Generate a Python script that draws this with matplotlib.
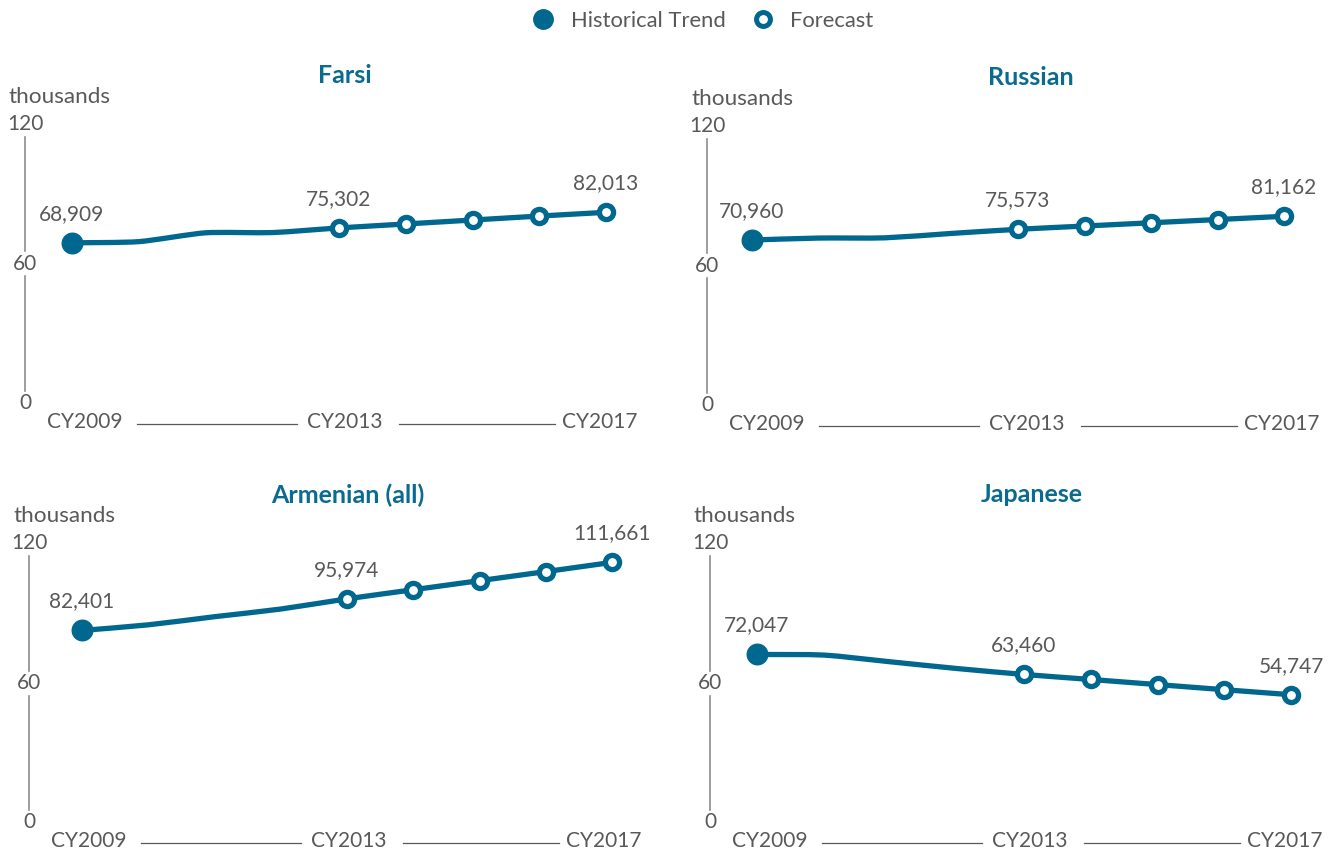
import numpy as np
import matplotlib
matplotlib.use("Agg")
import matplotlib.pyplot as plt
from matplotlib.path import Path
from matplotlib.patches import PathPatch
from matplotlib.lines import Line2D

plt.rcParams['font.family'] = ['Lato', 'DejaVu Sans']

# ---------------- data (thousands) ----------------
years = ['CY2009', 'CY2010', 'CY2011', 'CY2012', 'CY2013',
         'CY2014', 'CY2015', 'CY2016', 'CY2017']
shown_years = ['CY2009', 'CY2013', 'CY2017']
titles = ['Farsi', 'Russian', 'Armenian (all)', 'Japanese']
farsi = [68.909, 69.4, 73.2, 73.3, 75.302, 77.0, 78.7, 80.4, 82.013]
russian = [70.960, 71.8, 71.9, 73.8, 75.573, 76.97, 78.37, 79.77, 81.162]
armenian = [82.401, 84.8, 88.3, 91.6, 95.974, 99.9, 103.8, 107.7, 111.661]
japanese = [72.047, 71.8, 68.9, 66.0, 63.460, 61.3, 59.1, 56.9, 54.747]
series = [farsi, russian, armenian, japanese]
labelled_idx = [0, 4, 8]
forecast_start = 4
y_ticks = [0, 60, 120]
y_unit = 'thousands'
legend_labels = ['Historical Trend', 'Forecast']

# ---------------- style ----------------
BLUE = '#00678F'
TITLE_BLUE = '#0A6A8F'
TEXT = '#595959'
AXIS = '#8C8C8C'
FS = 15

W, H = 1340, 855
fig = plt.figure(figsize=(W / 100, H / 100), dpi=100)
fig.patch.set_facecolor('white')

# panel layout in pixels: x of first/last category, y of 0 and 120, axis line x, title x
layouts = [
    dict(x0=72, x1=606, yb=403, yt=124, axx=25, tx=345),
    dict(x0=752, x1=1284, yb=405, yt=126, axx=707, tx=1031),
    dict(x0=82, x1=612, yb=822, yt=543, axx=29, tx=348),
    dict(x0=757, x1=1291, yb=822, yt=543, axx=710, tx=1032),
]


def smooth_path(xs, ys, k=9.0):
    P = np.column_stack([xs, ys]).astype(float)
    n = len(P)
    verts = [P[0]]
    codes = [Path.MOVETO]
    for i in range(n - 1):
        p0 = P[i - 1] if i > 0 else P[i]
        p1 = P[i]
        p2 = P[i + 1]
        p3 = P[i + 2] if i + 2 < n else P[i + 1]
        verts += [p1 + (p2 - p0) / k, p2 - (p3 - p1) / k, p2]
        codes += [Path.CURVE4] * 3
    return Path(verts, codes)


for title, vals, L in zip(titles, series, layouts):
    ax = fig.add_axes([L['x0'] / W, (H - L['yb']) / H,
                       (L['x1'] - L['x0']) / W, (L['yb'] - L['yt']) / H])
    ax.set_xlim(0, len(years) - 1)
    ax.set_ylim(0, 120)
    ax.axis('off')
    dx = (L['x1'] - L['x0']) / (len(years) - 1)
    dy = (L['yb'] - L['yt']) / 120.0
    x = np.arange(len(years))
    axx = (L['axx'] - L['x0']) / dx

    # line
    ax.add_patch(PathPatch(smooth_path(x, vals), fill=False, edgecolor=BLUE,
                           lw=3.8, capstyle='round', joinstyle='round', zorder=3))
    # markers
    ax.plot(x[:1], vals[:1], 'o', ms=14.8, color=BLUE, mec=BLUE, zorder=4, clip_on=False)
    ax.plot(x[forecast_start:], vals[forecast_start:], 'o', ls='none', ms=10.2,
            mfc='white', mec=BLUE, mew=3.8, zorder=4, clip_on=False)
    # data labels
    for i in labelled_idx:
        ax.annotate(f'{vals[i] * 1000:,.0f}', (x[i], vals[i]), xytext=(0, 29),
                    textcoords='offset pixels', ha='center', va='center',
                    fontsize=FS, color=TEXT, annotation_clip=False)

    # y axis with broken line around labels
    gap_top = 12 / dy
    gap_bot = 13 / dy
    for lo, hi in zip(y_ticks[:-1], y_ticks[1:]):
        ax.plot([axx, axx], [lo + gap_top, hi - gap_bot], color=AXIS, lw=1.2,
                clip_on=False, zorder=1)
    for t in y_ticks:
        ax.text(axx, t, str(t), ha='center', va='center', fontsize=FS, color=TEXT)
    ax.annotate(y_unit, (axx, 120), xytext=(-16, 27), textcoords='offset pixels',
                ha='left', va='center', fontsize=16.2, color=TEXT, annotation_clip=False)

    # title
    ax.text((L['tx'] - L['x0']) / dx, 120 + 48 / dy, title, ha='center', va='center',
            fontsize=18, fontweight='bold', color=TITLE_BLUE)

    # x category labels (relative to axis line)
    for lab, off in zip(shown_years, [60, 320, 575]):
        ax.text(axx + off / dx, -19 / dy, lab, ha='center', va='center',
                fontsize=FS, color=TEXT)
    for a, b in [(112, 272), (374, 530)]:
        ax.plot([axx + a / dx, axx + b / dx], [-21 / dy, -21 / dy], color=TEXT,
                lw=0.9, clip_on=False)

# legend
handles = [
    Line2D([], [], marker='o', ls='none', ms=14, color=BLUE),
    Line2D([], [], marker='o', ls='none', ms=10, mfc='white', mec=BLUE, mew=3.6),
]
leg = fig.legend(handles, legend_labels, loc='center', ncol=2,
                 bbox_to_anchor=(703 / W, 1 - 21 / H), frameon=False,
                 fontsize=15.8, handletextpad=0.75, columnspacing=1.2,
                 handlelength=1.0)
for t in leg.get_texts():
    t.set_color(TEXT)

fig.savefig('out.png', dpi=100, facecolor='white')
